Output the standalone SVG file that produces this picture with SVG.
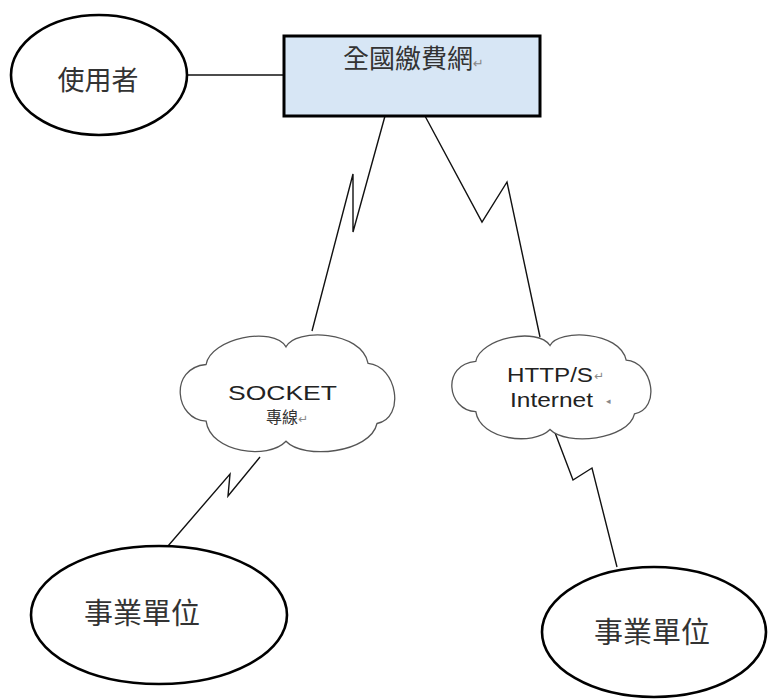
<svg xmlns="http://www.w3.org/2000/svg" width="769" height="699" viewBox="0 0 769 699">
<defs>
<style>
.node{fill:#fff;stroke:#000;stroke-width:2.6}
.cloud{fill:#fff;stroke:#555;stroke-width:1.3}
.conn{fill:none;stroke:#111;stroke-width:1.4;stroke-linejoin:miter}
.cjk{font-family:"Noto Sans CJK TC","Noto Sans CJK SC",sans-serif;fill:#333}
.lat{font-family:"Liberation Sans",Arial,sans-serif;fill:#222}
.mark{font-family:"DejaVu Sans",sans-serif;fill:#888}
</style>
</defs>
<rect width="769" height="699" fill="#fff"/>
<g id="connectors">
<line class="conn" x1="188" y1="75" x2="283" y2="75"/>
<polyline class="conn" points="385,116 353,232 353,174 312,331"/>
<polyline class="conn" points="425,116 482,222 507,182 540,337"/>
<polyline class="conn" points="260,457 228,496 230,474 168,546"/>
<polyline class="conn" points="554,430 573,480 592,468 617,567"/>
</g>
<g id="user">
<ellipse class="node" cx="99" cy="75" rx="88" ry="60"/>
<text class="cjk" x="98" y="90" font-size="27" text-anchor="middle">使用者</text>
</g>
<g id="portal">
<rect x="284" y="36" width="256" height="80" fill="#d7e6f5" stroke="#000" stroke-width="3"/>
<text class="cjk" x="343" y="68" font-size="26" fill="#222">全國繳費網<tspan class="mark" font-size="13">↵</tspan></text>
</g>
<g id="socket">
<path class="cloud" d="M206.1,364.5 C210.5,338.5 272.7,325.6 286,346.8 C294.9,327.9 361.5,330.3 368.1,363.3 C397,365.7 405.9,417.6 377,423.5 C370.4,453 303.8,460.1 286,441.2 C268.2,460.1 210.5,453 206.1,421.1 C175,420 168.3,368 206.1,364.5 Z"/>
<text class="lat" x="228" y="400" font-size="21" textLength="109" lengthAdjust="spacingAndGlyphs">SOCKET</text>
<text class="cjk" x="266" y="423" font-size="16">專線<tspan class="mark" font-size="12">↵</tspan></text>
</g>
<g id="internet">
<path class="cloud" d="M475.8,361.3 C480,338.2 537.6,326.6 550,345.5 C558.2,328.7 620,330.8 626.2,360.2 C653,362.3 661.2,408.5 634.5,413.8 C628.3,440 566.5,446.3 550,429.5 C533.5,446.3 480,440 475.8,411.7 C447,410.6 440.8,364.4 475.8,361.3 Z"/>
<text class="lat" x="507" y="382" font-size="21" textLength="86" lengthAdjust="spacingAndGlyphs">HTTP/S</text>
<text class="mark" x="594" y="380" font-size="12">↵</text>
<text class="lat" x="510" y="407" font-size="21" textLength="83" lengthAdjust="spacingAndGlyphs">Internet</text>
<text class="mark" x="606" y="404" font-size="9">◂</text>
</g>
<g id="biz-left">
<ellipse class="node" cx="159" cy="615" rx="128" ry="69"/>
<text class="cjk" x="142" y="624" font-size="29" text-anchor="middle">事業單位</text>
</g>
<g id="biz-right">
<ellipse class="node" cx="654" cy="632" rx="112" ry="65"/>
<text class="cjk" x="652" y="643" font-size="29" text-anchor="middle">事業單位</text>
</g>
</svg>
